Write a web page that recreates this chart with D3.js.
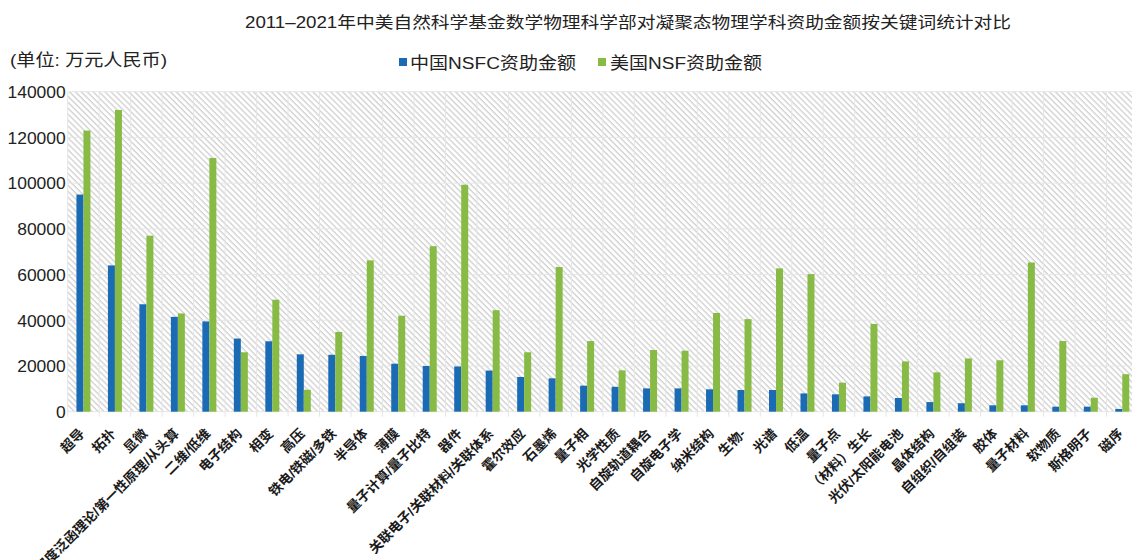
<!DOCTYPE html>
<html>
<head>
<meta charset="utf-8">
<script src="https://cdn.jsdelivr.net/npm/d3@7"></script>
<style>
  body { margin: 0; background: #fff; }
  svg { display: block; font-family: "Liberation Sans", "Noto Sans CJK SC", sans-serif; }
</style>
</head>
<body>
<div id="chart"></div>
<script>
const categories = [
  '超导', '拓扑', '显微', '密度泛函理论/第一性原理/从头算', '二维/低维', '电子结构', '相变', '高压',
  '铁电/铁磁/多铁', '半导体', '薄膜', '量子计算/量子比特', '器件', '关联电子/关联材料/关联体系',
  '霍尔效应', '石墨烯', '量子相', '光学性质', '自旋轨道耦合', '自旋电子学', '纳米结构', '生物-',
  '光谱', '低温', '量子点', '（材料）生长', '光伏/太阳能电池', '晶体结构', '自组织/自组装',
  '胶体', '量子材料', '软物质', '斯格明子', '磁序'
];
const nsfcValues = [
  95000, 64000, 47000, 41500, 39500, 32000, 30800, 25100, 24900, 24400, 21000, 20000, 19800, 18000,
  15200, 14600, 11400, 10900, 10200, 10200, 9800, 9500, 9500, 8000, 7600, 6700, 6000, 4200, 3700,
  2800, 2800, 2200, 2200, 1200
];
const nsfValues = [
  123000, 132000, 77000, 43000, 111000, 26000, 49000, 9600, 34900, 66200, 42000, 72400, 99300, 44400,
  26000, 63300, 30900, 18100, 27000, 26700, 43200, 40500, 62700, 60200, 12700, 38400, 22000, 17200,
  23300, 22500, 65300, 30900, 6100, 16400
];
const seriesNames = ['中国NSFC资助金额', '美国NSF资助金额'];
const yTicks = [0, 20000, 40000, 60000, 80000, 100000, 120000, 140000];

const W = 1132, H = 560;
const colors = ['#1b6bb4', '#88bb45'];
const plotLeft = 67.7, plotTop = 91.7, plotBottom = 411.7;
const plotW = categories.length * 31.48;

const svg = d3.select('#chart').append('svg')
  .attr('width', W).attr('height', H);

// diagonal hatch background
const pat = svg.append('defs').append('pattern')
  .attr('id', 'hatch')
  .attr('width', 4.2).attr('height', 4.2)
  .attr('patternUnits', 'userSpaceOnUse')
  .attr('patternTransform', 'rotate(-45)');
pat.append('rect').attr('width', 4.2).attr('height', 4.2).attr('fill', '#fff');
pat.append('line')
  .attr('x1', 1).attr('y1', 0).attr('x2', 1).attr('y2', 4.2)
  .attr('stroke', '#cfcfcf').attr('stroke-width', 1.3);

const x = d3.scaleBand().domain(categories).range([plotLeft, plotLeft + plotW]).padding(0);
const xSub = d3.scaleBand().domain([0, 1]).range([0, 14]);
const y = d3.scaleLinear().domain([0, 140000]).range([plotBottom, plotTop]);

svg.append('rect')
  .attr('x', plotLeft).attr('y', plotTop)
  .attr('width', plotW).attr('height', plotBottom - plotTop)
  .attr('fill', 'url(#hatch)');

// horizontal gridlines
svg.append('g').selectAll('line')
  .data(yTicks)
  .join('line')
  .attr('x1', plotLeft).attr('x2', plotLeft + plotW)
  .attr('y1', d => y(d)).attr('y2', d => y(d))
  .attr('stroke', '#e6e6e6').attr('stroke-width', 1);

// vertical category gridlines + ticks
svg.append('g').selectAll('line')
  .data(d3.range(categories.length + 1))
  .join('line')
  .attr('x1', i => plotLeft + i * x.bandwidth()).attr('x2', i => plotLeft + i * x.bandwidth())
  .attr('y1', plotTop).attr('y2', plotBottom + 5)
  .attr('stroke', '#e6e6e6').attr('stroke-width', 1);

// y axis
const yAxis = svg.append('g')
  .attr('transform', `translate(${plotLeft - 2},0)`)
  .call(d3.axisLeft(y).tickValues(yTicks).tickSize(0).tickPadding(0).tickFormat(d3.format('d')));
yAxis.select('.domain').remove();
yAxis.selectAll('text')
  .attr('font-size', 16)
  .attr('fill', '#222')
  .attr('dy', '0.36em')
  .attr('textLength', d => String(d).length * 9.7)
  .attr('lengthAdjust', 'spacingAndGlyphs');

// bars
const series = [nsfcValues, nsfValues];
series.forEach((vals, s) => {
  svg.append('g').selectAll('rect')
    .data(categories)
    .join('rect')
    .attr('x', (c, i) => x(c) + (x.bandwidth() - 14) / 2 + xSub(s))
    .attr('y', (c, i) => y(vals[i]))
    .attr('width', xSub.bandwidth())
    .attr('height', (c, i) => plotBottom - y(vals[i]))
    .attr('fill', colors[s]);
});

// x labels (rotated, like the reference the longest one runs off the bottom)
svg.append('g').selectAll('text')
  .data(categories)
  .join('text')
  .attr('transform', c => `translate(${x(c) + x.bandwidth() / 2 - 1.5},${plotBottom + 19.5}) rotate(-45)`)
  .attr('text-anchor', 'end')
  .attr('dy', '0.35em')
  .attr('font-size', 13.5)
  .attr('font-weight', 'bold')
  .attr('fill', '#1a1a1a')
  .text(c => c);

// title
svg.append('text')
  .attr('x', 245).attr('y', 28)
  .attr('font-size', 16)
  .attr('fill', '#222')
  .attr('textLength', 766)
  .attr('lengthAdjust', 'spacingAndGlyphs')
  .text('2011–2021年中美自然科学基金数学物理科学部对凝聚态物理学科资助金额按关键词统计对比');

// unit
svg.append('text')
  .attr('x', 10).attr('y', 66)
  .attr('font-size', 17)
  .attr('fill', '#222')
  .attr('textLength', 157)
  .attr('lengthAdjust', 'spacingAndGlyphs')
  .text('(单位: 万元人民币)');

// legend
const legendItems = [
  { sx: 399, tx: 410, tw: 166 },
  { sx: 598, tx: 610, tw: 152 }
];
legendItems.forEach((d, i) => {
  svg.append('rect')
    .attr('x', d.sx).attr('y', 58)
    .attr('width', 8).attr('height', 8)
    .attr('fill', colors[i]);
  svg.append('text')
    .attr('x', d.tx).attr('y', 69)
    .attr('font-size', 17)
    .attr('fill', '#222')
    .attr('textLength', d.tw)
    .attr('lengthAdjust', 'spacingAndGlyphs')
    .text(seriesNames[i]);
});
</script>
</body>
</html>
